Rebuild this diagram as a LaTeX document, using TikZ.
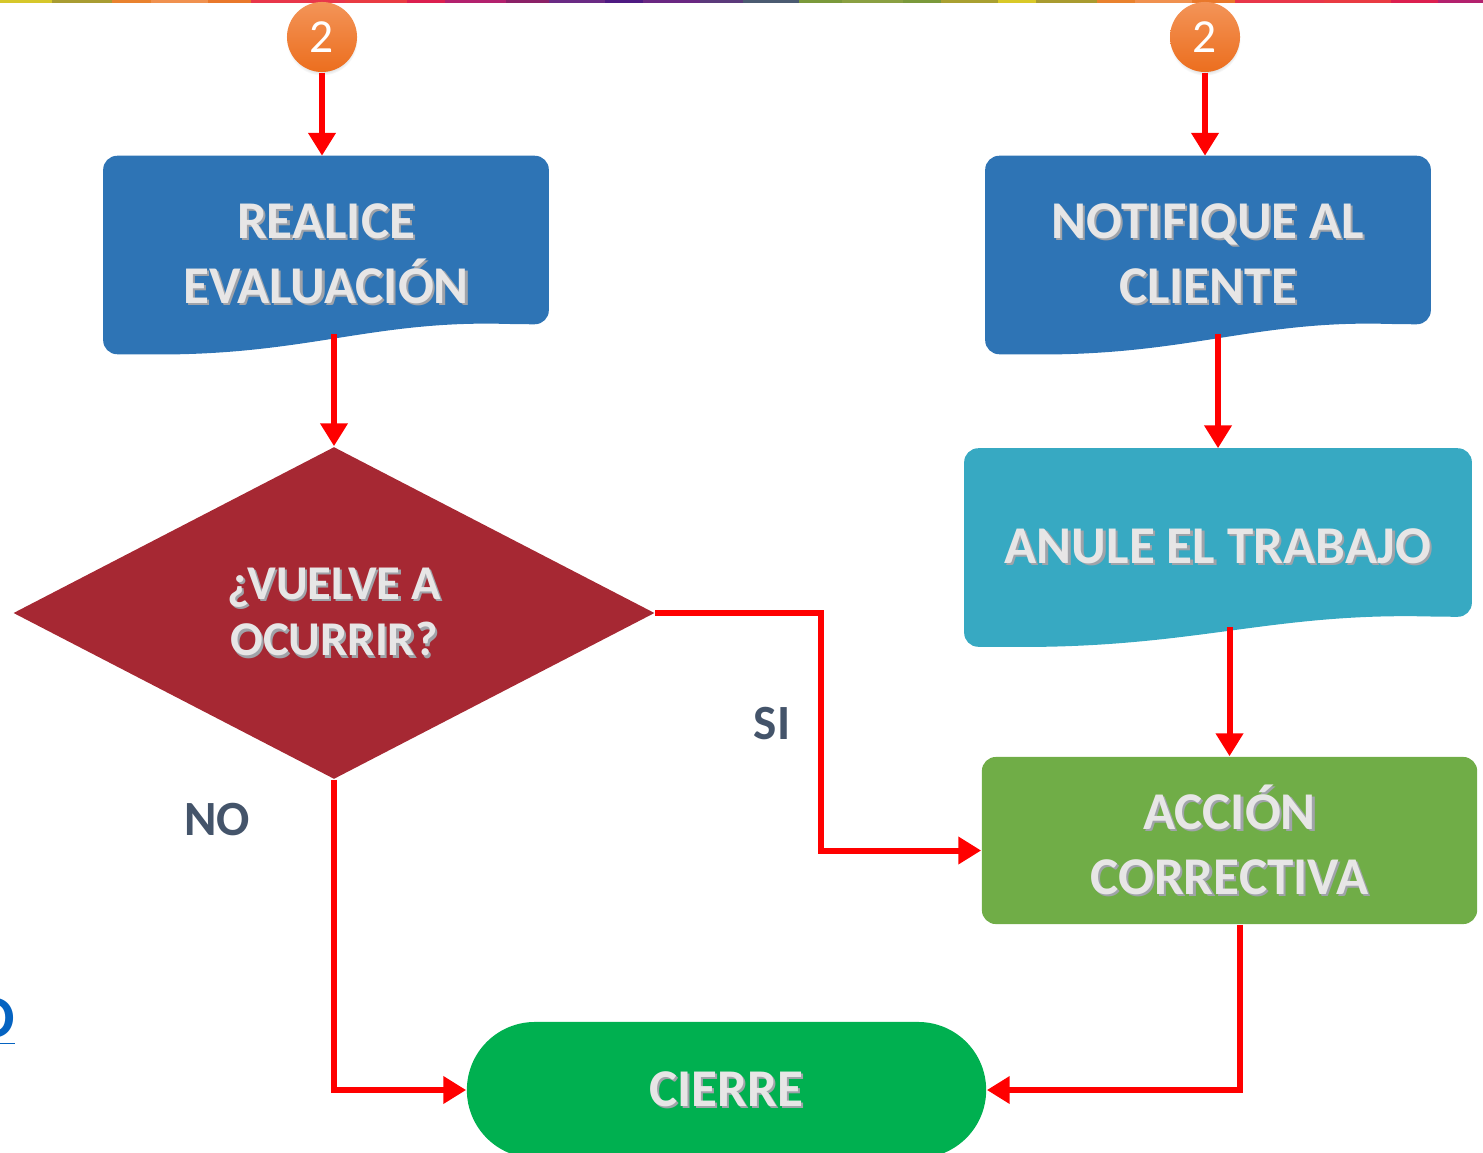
\documentclass[tikz,border=0pt]{standalone}
\usepackage{fontspec}
\setmainfont{Carlito}
\usetikzlibrary{arrows.meta,calc,shapes.geometric,shadows,backgrounds}

\definecolor{rojo}{HTML}{FF0000}
\definecolor{azul}{HTML}{2E74B5}
\definecolor{celeste}{HTML}{37A9C2}
\definecolor{vino}{HTML}{A62833}
\definecolor{verde}{HTML}{70AD47}
\definecolor{verdefin}{HTML}{00B050}
\definecolor{naranja}{HTML}{EC6E1E}
\definecolor{naranjaclaro}{HTML}{F39458}
\definecolor{textoclaro}{HTML}{E7E6E6}
\definecolor{textosombra}{HTML}{2B3240}
\definecolor{gristexto}{HTML}{44546A}
\definecolor{azulenlace}{HTML}{0563C1}

% texto con sombra leve
\newcommand\sombra[1]{\leavevmode\rlap{\kern0.6pt\raisebox{-0.6pt}{\textcolor{textosombra!45}{#1}}}#1}

% hoja (forma de documento) detras del nodo #1
\newcommand\hoja[2]{%
  \begin{pgfonlayer}{background}
    \fill[#2, rounded corners=0.14cm] (#1.south west) -- (#1.north west) -- (#1.north east)
      -- ($(#1.south east)+(0,-30)$) -- ($(#1.south east)+(-30,-30)$)
      .. controls ($(#1.south west)!0.6!(#1.south east)+(0,-34)$)
         and ($(#1.south west)!0.45!(#1.south east)+(0,2)$) .. ($(#1.south west)+(30,0)$)
      -- cycle;
  \end{pgfonlayer}}

\tikzset{
  flecha/.style={draw=rojo, line width=1.7pt, -{Triangle[length=6.5pt,width=7.5pt]}},
  caja/.style={rectangle, inner sep=0pt, align=center, text=textoclaro,
    font=\bfseries\fontsize{15.1}{18.5}\selectfont},
  bola/.style={circle, minimum size=0.70cm, inner sep=0pt, top color=naranjaclaro,
    bottom color=naranja, text=white, font=\fontsize{13.5}{15}\selectfont,
    circular drop shadow={opacity=0.3, shadow xshift=0pt, shadow yshift=-0.8pt, shadow scale=1.02}},
  rotulo/.style={text=gristexto, font=\bfseries\fontsize{14}{16}\selectfont},
}

\begin{document}
\begin{tikzpicture}[x=0.01cm, y=-0.01cm]
  \useasboundingbox (0,0) rectangle (1483,1152);

  % franja de colores arriba
  \foreach \a/\b/\c in {0/52/D6C72A, 52/112/A89C32, 112/151/E9822E, 151/208/F0914F,
      208/251/E9782B, 251/345/E8364A, 345/407/E93B42, 407/445/DC1F4F, 445/506/B3216E,
      506/549/8B2167, 549/605/6A2A84, 605/643/4E1A82, 643/700/6A2882, 700/743/5B3A7B,
      743/799/4B5B71, 799/842/7A993B, 842/903/8AA042, 903/941/7A993B, 941/998/A9A031,
      998/1036/D9C928, 1036/1097/A99B30, 1097/1135/E9822E, 1135/1192/F0914F,
      1192/1235/E9782B, 1235/1324/E8364A, 1324/1391/E93B42, 1391/1438/DC1F4F,
      1438/1483/B3216E}
    {\definecolor{tira}{HTML}{\c}\fill[tira] (\a,0) rectangle (\b,3.5);}

  % conectores de pagina
  \node[bola] (uno) at (322,37) {2};
  \node[bola] (dos) at (1205,37) {2};

  % bloques
  \node[caja, minimum width=4.44cm, minimum height=1.97cm] (realice) at (326,255)
    {\sombra{REALICE}\\\sombra{EVALUACIÓN}};
  \node[caja, minimum width=4.44cm, minimum height=1.97cm] (notifique) at (1208,255)
    {\sombra{NOTIFIQUE AL}\\\sombra{CLIENTE}};
  \node[caja, minimum width=5.06cm, minimum height=1.97cm] (anule) at (1218,547.5)
    {\sombra{ANULE EL TRABAJO}};
  \hoja{realice}{azul}
  \hoja{notifique}{azul}
  \hoja{anule}{celeste}

  \node[caja, diamond, aspect=2, fill=vino, minimum width=6.41cm, minimum height=3.32cm,
    font=\bfseries\fontsize{13.8}{16.2}\selectfont] (pregunta) at (334,613)
    {\sombra{¿VUELVE A}\\\sombra{OCURRIR?}};
  \node[caja, fill=verde, rounded corners=0.14cm, minimum width=4.95cm, minimum height=1.67cm]
    (accion) at (1229.5,840.5) {\sombra{ACCIÓN}\\\sombra{CORRECTIVA}};
  \node[caja, fill=verdefin, rounded corners=0.68cm, minimum width=5.19cm, minimum height=1.36cm]
    (cierre) at (726.5,1090) {\sombra{CIERRE}};

  % flechas
  \draw[flecha] (uno) -- (uno |- realice.north);
  \draw[flecha] ($(realice.south -| pregunta.north)+(0,-20)$) -- (pregunta.north);
  \draw[flecha] (dos) -- (dos |- notifique.north);
  \draw[flecha] ($(notifique.south -| anule.north)+(0,-20)$) -- (anule.north);
  \draw[flecha] ($(anule.south -| accion.north)+(0,-20)$) -- (accion.north);
  \draw[flecha] (pregunta.east) -- ++(166,0) |- ($(accion.west)+(0,10)$);
  \draw[flecha] (pregunta.south) |- (cierre.west);
  \draw[flecha] ($(accion.south)+(10,0)$) |- (cierre.east);

  \node[rotulo] (si) at (772,724) {SI};
  \node[rotulo] (no) at (217,820) {NO};

  \node[text=azulenlace, font=\bfseries\fontsize{17}{18}\selectfont, anchor=east, inner sep=0pt]
    (enlace) at (16,1022) {\underline{O}};
\end{tikzpicture}
\end{document}
